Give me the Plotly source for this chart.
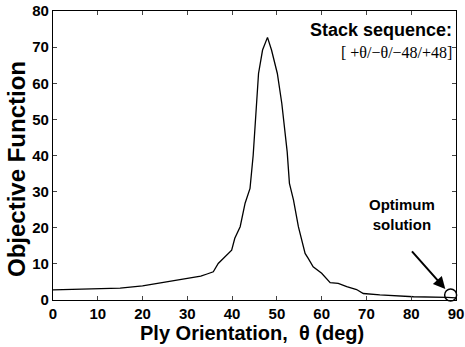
import plotly.graph_objects as go

theta = [0, 5, 10, 15, 20, 25, 30, 33, 34.4, 35.8, 36.9, 38.4, 39.9, 40.6, 41.8, 42.9, 44.0,
         44.7, 45.3, 45.9, 46.8, 47.9, 48.8, 50.1, 51.1, 52.3, 52.8, 53.7, 54.8, 55.5, 56.3,
         57.0, 58.1, 60.0, 61.9, 63.7, 65.6, 67.8, 69.3, 73.0, 80.5, 88.0, 90.0]
objective = [2.8, 2.9, 3.0, 3.3, 3.9, 4.9, 6.0, 6.6, 7.2, 7.8, 10.1, 12.0, 13.8, 17.1, 20.3, 26.8, 30.9,
             40.0, 52.6, 62.7, 69.2, 72.7, 69.2, 62.7, 54.4, 41.0, 32.3, 27.7, 20.3, 16.6, 12.9,
             11.5, 9.2, 7.4, 4.8, 4.6, 3.7, 2.9, 1.8, 1.4, 0.9, 0.7, 0.6]
opt_theta = [88.8]
opt_value = [1.4]
x_ticks = [0, 10, 20, 30, 40, 50, 60, 70, 80, 90]
y_ticks = [0, 10, 20, 30, 40, 50, 60, 70, 80]

fig = go.Figure()
fig.add_trace(go.Scatter(x=theta, y=objective, mode="lines",
                         line=dict(color="black", width=1.3), showlegend=False))
fig.add_trace(go.Scatter(x=opt_theta, y=opt_value, mode="markers",
                         marker=dict(symbol="circle-open", size=12, color="black",
                                     line=dict(width=1.5)),
                         showlegend=False, cliponaxis=False))

SANS = "Liberation Sans, Arial"
tickfont = dict(family=SANS, size=15, color="black")
fig.update_layout(
    width=465, height=347,
    margin=dict(l=53, r=9, t=11, b=47),
    paper_bgcolor="white", plot_bgcolor="white",
    font=dict(family=SANS, color="black"),
    xaxis=dict(range=[0, 90], tickvals=x_ticks, ticktext=[f"<b>{v}</b>" for v in x_ticks],
               ticks="inside", ticklen=4,
               showline=True, linecolor="black", linewidth=1.2, mirror="ticks",
               showgrid=False, zeroline=False, automargin=False,
               tickfont=tickfont),
    yaxis=dict(range=[0, 80], tickvals=y_ticks, ticktext=[f"<b>{v}</b>" for v in y_ticks],
               ticks="inside", ticklen=4,
               showline=True, linecolor="black", linewidth=1.2, mirror="ticks",
               showgrid=False, zeroline=False, automargin=False,
               tickfont=tickfont),
)

fig.add_annotation(xref="paper", yref="paper", x=0.494, y=-0.115, xanchor="center", yanchor="middle",
                   text="<b>Ply Orientation,  θ (deg)</b>", showarrow=False,
                   font=dict(family=SANS, size=20, color="black"))
fig.add_annotation(xref="paper", yref="paper", x=-0.092, y=0.453, xanchor="center", yanchor="middle",
                   text="<b>Objective Function</b>", showarrow=False, textangle=-90,
                   font=dict(family=SANS, size=24, color="black"))
fig.add_annotation(xref="paper", yref="paper", x=0.995, y=0.935, xanchor="right", yanchor="middle",
                   text="<b>Stack sequence:</b>", showarrow=False,
                   font=dict(family=SANS, size=18, color="black"))
fig.add_annotation(xref="paper", yref="paper", x=0.995, y=0.855, xanchor="right", yanchor="middle",
                   text="[ +θ/−θ/−48/+48]", showarrow=False,
                   font=dict(family="Liberation Serif, Times New Roman", size=16, color="black"))
fig.add_annotation(xref="paper", yref="paper", x=0.865, y=0.295, xanchor="center", yanchor="middle",
                   text="<b>Optimum<br>solution</b>", showarrow=False,
                   font=dict(family=SANS, size=15, color="black"))
fig.add_annotation(x=opt_theta[0], y=opt_value[0], xref="x", yref="y", text="",
                   showarrow=True, arrowhead=2, arrowsize=1.2, arrowwidth=2, arrowcolor="black",
                   ax=-40, ay=-45, standoff=8)

fig.write_html("out.html")
